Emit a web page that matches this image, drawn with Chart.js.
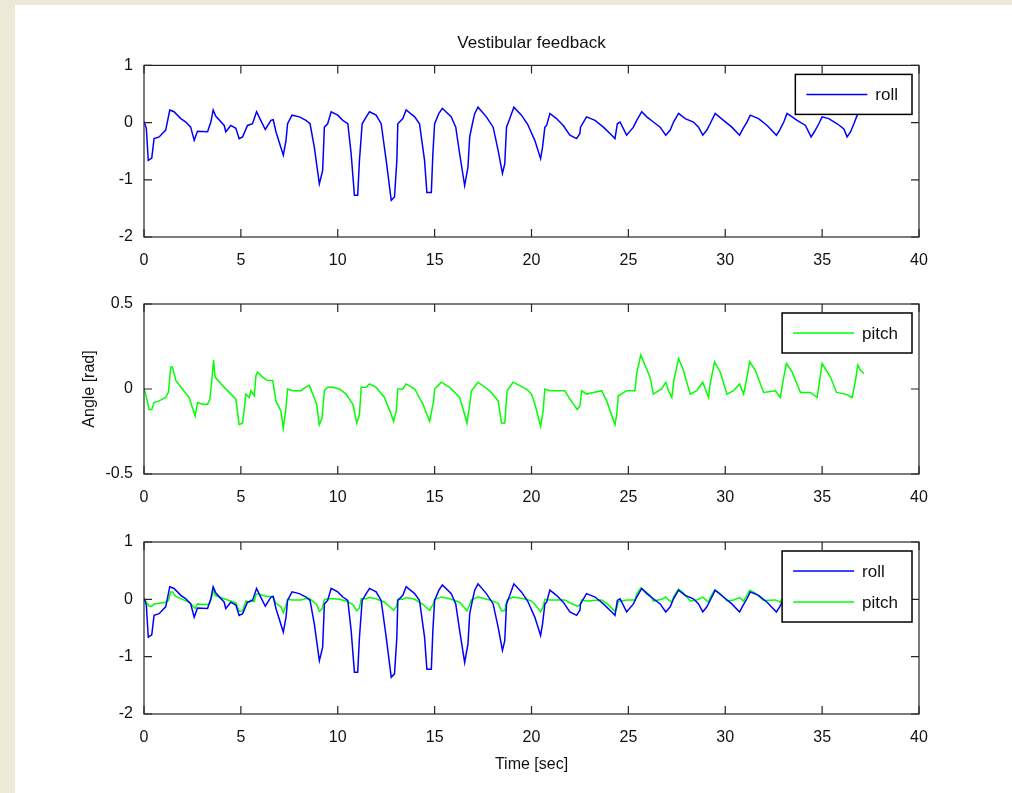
<!DOCTYPE html>
<html>
<head>
<meta charset="utf-8">
<title>Vestibular feedback</title>
<script src="https://cdn.jsdelivr.net/npm/chart.js@4"></script>
<style>
  body { margin: 0; background: #ece9d8; overflow: hidden; }
  #fig { position: absolute; left: 15px; top: 5px; width: 997px; height: 788px; background: #fff; }
  canvas { position: absolute; left: 0; }
</style>
</head>
<body>
<div id="fig"></div>
<canvas id="c1" width="1012" height="280" style="top:0px"></canvas>
<canvas id="c2" width="1012" height="230" style="top:280px"></canvas>
<canvas id="c3" width="1012" height="283" style="top:510px"></canvas>

<script>
// time [sec] and angle [rad]
const rollTime = [0, 0.12, 0.22, 0.40, 0.52, 0.78, 1.12, 1.33, 1.55, 1.90, 2.16, 2.41, 2.59, 2.76, 3.28, 3.45, 3.57, 3.71,
  4.14, 4.22, 4.48, 4.74, 4.91, 5.09, 5.34, 5.60, 5.81, 5.98, 6.26, 6.55, 6.67, 6.81, 7.19, 7.33, 7.41, 7.64,
  8.02, 8.36, 8.57, 8.79, 9.05, 9.22, 9.31, 9.48, 9.66, 10.0, 10.26, 10.52, 10.69, 10.86, 11.03, 11.12, 11.26,
  11.47, 11.64, 11.98, 12.24, 12.5, 12.76, 12.93, 13.05, 13.1, 13.36, 13.53, 13.97, 14.22, 14.48, 14.6, 14.83,
  14.91, 15.0, 15.22, 15.4, 15.86, 16.09, 16.29, 16.55, 16.72, 16.81, 16.95, 17.07, 17.24, 17.67, 18.02, 18.28,
  18.5, 18.62, 18.71, 18.88, 19.09, 19.48, 19.8, 20.17, 20.47, 20.57, 20.69, 20.78, 20.95, 21.29, 21.64, 21.98,
  22.33, 22.5, 22.53, 22.84, 23.28, 23.71, 24.14, 24.31, 24.43, 24.57, 24.91, 25.26, 25.43, 25.69, 25.95, 26.29,
  26.64, 26.93, 27.16, 27.33, 27.59, 27.93, 28.36, 28.62, 28.84, 29.05, 29.22, 29.48, 29.91, 30.34, 30.74, 30.91,
  31.12, 31.29, 31.72, 32.16, 32.64, 32.81, 33.02, 33.19, 33.71, 34.14, 34.43, 34.6, 34.83, 35.0, 35.34, 35.78,
  36.12, 36.29, 36.47, 36.64, 36.81, 36.98, 37.1];
const rollAngle = [0.02, -0.1, -0.66, -0.62, -0.28, -0.25, -0.13, 0.22, 0.19, 0.07, 0.01, -0.08, -0.31, -0.15, -0.16, 0.01, 0.22, 0.11,
  -0.05, -0.16, -0.05, -0.1, -0.28, -0.25, -0.05, -0.02, 0.19, 0.07, -0.12, 0.04, 0.05, -0.16, -0.57, -0.31, -0.02, 0.13,
  0.1, 0.04, -0.02, -0.43, -1.07, -0.84, -0.08, -0.02, 0.19, 0.13, 0.04, -0.02, -0.54, -1.27, -1.27, -0.66, -0.02,
  0.1, 0.19, 0.13, -0.02, -0.66, -1.36, -1.3, -0.66, -0.02, 0.07, 0.22, 0.1, -0.02, -0.66, -1.22, -1.22,
  -0.54, -0.02, 0.16, 0.25, 0.1, -0.08, -0.54, -1.1, -0.78, -0.25, -0.02, 0.16, 0.27, 0.1, -0.08, -0.49,
  -0.89, -0.72, -0.08, 0.07, 0.27, 0.13, -0.03, -0.31, -0.63, -0.43, -0.08, -0.05, 0.16, 0.07, -0.05, -0.22,
  -0.28, -0.19, -0.08, 0.1, 0.04, -0.08, -0.22, -0.28, -0.02, 0.01, -0.22, -0.08, 0.04, 0.19, 0.1, 0.01,
  -0.08, -0.22, -0.13, 0.01, 0.16, 0.07, 0.01, -0.08, -0.22, -0.13, -0.02, 0.16, 0.04, -0.08, -0.22, -0.11,
  0.01, 0.13, 0.07, -0.05, -0.22, -0.13, 0.01, 0.16, 0.04, -0.05, -0.25, -0.16, -0.02, 0.1, 0.07, -0.02,
  -0.11, -0.25, -0.16, -0.02, 0.13, 0.22, 0.2];

const pitchTime = [0, 0.09, 0.26, 0.4, 0.52, 0.78, 1.12, 1.26, 1.38, 1.47, 1.64, 1.98, 2.33, 2.5, 2.64, 2.76, 3.02, 3.28, 3.4,
  3.5, 3.59, 3.67, 4.05, 4.4, 4.74, 4.91, 5.09, 5.26, 5.43, 5.52, 5.69, 5.78, 5.86, 6.12, 6.38, 6.64, 6.81, 7.07,
  7.19, 7.33, 7.41, 7.67, 8.1, 8.33, 8.53, 8.71, 8.91, 9.05, 9.19, 9.31, 9.48, 9.74, 10.09, 10.43, 10.78, 10.98,
  11.12, 11.21, 11.47, 11.64, 11.98, 12.41, 12.76, 12.88, 13.02, 13.1, 13.36, 13.53, 13.97, 14.4, 14.74, 14.95,
  15.0, 15.26, 15.34, 15.78, 16.29, 16.55, 16.67, 16.81, 16.9, 17.24, 17.84, 18.28, 18.45, 18.62, 18.74, 19.05,
  19.74, 20.0, 20.2, 20.47, 20.6, 20.69, 20.95, 21.72, 21.98, 22.36, 22.5, 22.59, 22.84, 23.19, 23.62, 23.88,
  24.31, 24.4, 24.48, 24.91, 25.34, 25.43, 25.64, 25.86, 26.12, 26.29, 26.72, 26.93, 27.07, 27.24, 27.36, 27.59,
  27.84, 28.19, 28.53, 28.84, 28.97, 29.14, 29.22, 29.45, 29.74, 30.09, 30.43, 30.74, 30.95, 31.09, 31.26, 31.55,
  31.98, 32.59, 32.84, 33.02, 33.16, 33.45, 33.88, 34.4, 34.74, 34.86, 35.0, 35.43, 35.74, 36.21, 36.55, 36.72,
  36.84, 36.98, 37.16];
const pitchAngle = [0, -0.03, -0.12, -0.12, -0.08, -0.07, -0.05, -0.02, 0.13, 0.13, 0.05, 0, -0.05, -0.11, -0.16, -0.08, -0.09, -0.09, -0.06,
  0.05, 0.17, 0.07, 0.02, -0.02, -0.06, -0.21, -0.2, -0.03, -0.05, -0.01, -0.04, 0.08, 0.1, 0.07, 0.05, 0.05, -0.07, -0.13,
  -0.23, -0.11, 0, -0.01, -0.01, 0.01, 0.02, -0.03, -0.09, -0.21, -0.17, -0.01, 0.01, 0.01, 0, -0.03, -0.09, -0.2,
  -0.15, 0.01, 0.01, 0.03, 0.01, -0.05, -0.15, -0.19, -0.13, 0, 0, 0.03, 0, -0.09, -0.19, -0.07,
  0, 0.03, 0.04, 0.01, -0.05, -0.15, -0.2, -0.09, -0.01, 0.04, -0.01, -0.07, -0.2, -0.2, -0.01, 0.04,
  0, -0.03, -0.1, -0.22, -0.13, 0, -0.01, -0.01, -0.06, -0.12, -0.1, -0.01, -0.03, -0.02, -0.01, -0.07,
  -0.21, -0.15, -0.04, -0.01, -0.01, 0.09, 0.2, 0.14, 0.07, -0.03, 0, 0.04, -0.01, -0.05, 0.06, 0.18,
  0.11, -0.03, -0.01, 0.04, 0, -0.05, 0.03, 0.16, 0.1, -0.03, -0.01, 0.03, -0.03, 0.05, 0.16, 0.11,
  -0.02, -0.01, -0.05, 0.07, 0.15, 0.1, -0.02, -0.02, -0.05, 0.04, 0.15, 0.07, -0.02, -0.03, -0.05, 0.05,
  0.14, 0.11, 0.09];

const xTicks = { min: 0, max: 40, step: 5 };
const rollLimits = { min: -2, max: 1, step: 1 };
const pitchLimits = { min: -0.5, max: 0.5, step: 0.5 };

const toPoints = (xs, ys) => xs.map((x, i) => ({ x: x, y: ys[i] }));

Chart.defaults.font.family = "'Liberation Sans', Arial, sans-serif";
Chart.defaults.font.size = 16;
Chart.defaults.color = '#111';

const boxColor = '#262626';

// MATLAB-style box with inward ticks, plus a boxed legend in the upper right
const matlabAxes = {
  id: 'matlabAxes',
  afterDatasetsDraw(chart) {
    const { ctx, chartArea: a, scales: { x, y } } = chart;
    ctx.save();
    ctx.strokeStyle = boxColor;
    ctx.lineWidth = 1.2;
    ctx.beginPath();
    x.ticks.forEach(t => {
      const px = x.getPixelForValue(t.value);
      ctx.moveTo(px, a.bottom); ctx.lineTo(px, a.bottom - 8);
      ctx.moveTo(px, a.top); ctx.lineTo(px, a.top + 8);
    });
    y.ticks.forEach(t => {
      const py = y.getPixelForValue(t.value);
      ctx.moveTo(a.left, py); ctx.lineTo(a.left + 8, py);
      ctx.moveTo(a.right, py); ctx.lineTo(a.right - 8, py);
    });
    ctx.stroke();
    ctx.strokeRect(a.left, a.top, a.right - a.left, a.bottom - a.top);
    ctx.restore();
  },
  afterDraw(chart) {
    const { ctx, chartArea: a } = chart;
    const sets = chart.data.datasets;
    const rowH = 31, padY = 4.5, padL = 11, lineLen = 61, gap = 8, padR = 14;
    ctx.save();
    ctx.font = "17px 'Liberation Sans', Arial, sans-serif";
    const tw = Math.max(...sets.map(d => ctx.measureText(d.label).width));
    const w = padL + lineLen + gap + tw + padR;
    const h = sets.length * rowH + 2 * padY;
    const bx = a.right - 7 - w;
    const by = a.top + 9;
    ctx.fillStyle = '#fff';
    ctx.fillRect(bx, by, w, h);
    ctx.strokeStyle = '#000';
    ctx.lineWidth = 1.5;
    ctx.strokeRect(bx, by, w, h);
    sets.forEach((d, i) => {
      const cy = by + padY + rowH * (i + 0.5);
      ctx.strokeStyle = d.borderColor;
      ctx.lineWidth = 1.5;
      ctx.beginPath();
      ctx.moveTo(bx + padL, cy);
      ctx.lineTo(bx + padL + lineLen, cy);
      ctx.stroke();
      ctx.fillStyle = '#111';
      ctx.textBaseline = 'middle';
      ctx.fillText(d.label, bx + padL + lineLen + gap, cy + 1);
    });
    ctx.restore();
  }
};

function lineSet(label, color, xs, ys) {
  return {
    label: label,
    data: toPoints(xs, ys),
    borderColor: color,
    borderWidth: 1.5,
    pointRadius: 0,
    tension: 0,
    fill: false
  };
}

function makeChart(id, datasets, lim, opts) {
  return new Chart(document.getElementById(id), {
    type: 'line',
    data: { datasets: datasets },
    options: {
      responsive: false,
      animation: false,
      layout: { padding: { left: 0, right: 93, top: opts.top, bottom: 0 } },
      plugins: {
        legend: { display: false },
        tooltip: { enabled: false },
        title: opts.title ? {
          display: true,
          text: opts.title,
          fullSize: false,
          color: '#111',
          font: { size: 17, weight: 'normal' },
          padding: { top: 33, bottom: 12 }
        } : { display: false }
      },
      scales: {
        x: {
          type: 'linear',
          min: xTicks.min,
          max: xTicks.max,
          grid: { display: false, drawTicks: false },
          border: { display: false },
          ticks: { stepSize: xTicks.step, padding: 14, maxRotation: 0, callback: v => String(v) },
          title: opts.xTitle ? {
            display: true, text: opts.xTitle, color: '#111',
            padding: { top: 0, bottom: 18.4 }
          } : { display: false },
          afterFit: s => { s.height = opts.xHeight; }
        },
        y: {
          min: lim.min,
          max: lim.max,
          grid: { display: false, drawTicks: false },
          border: { display: false },
          ticks: { stepSize: lim.step, padding: 11, callback: v => String(v) },
          title: opts.yTitle ? {
            display: true, text: opts.yTitle, color: '#111',
            padding: { top: 80, bottom: 0 }
          } : { display: false },
          afterFit: s => { s.width = 144; }
        }
      }
    },
    plugins: [matlabAxes]
  });
}

makeChart('c1', [lineSet('roll', '#0000ff', rollTime, rollAngle)], rollLimits,
  { top: 0, xHeight: 43, title: 'Vestibular feedback' });

makeChart('c2', [lineSet('pitch', '#00ff00', pitchTime, pitchAngle)], pitchLimits,
  { top: 24, xHeight: 36, yTitle: 'Angle [rad]' });

makeChart('c3', [
  lineSet('roll', '#0000ff', rollTime, rollAngle),
  lineSet('pitch', '#00ff00', pitchTime, pitchAngle)
], rollLimits, { top: 32, xHeight: 79, xTitle: 'Time [sec]' });
</script>
</body>
</html>
